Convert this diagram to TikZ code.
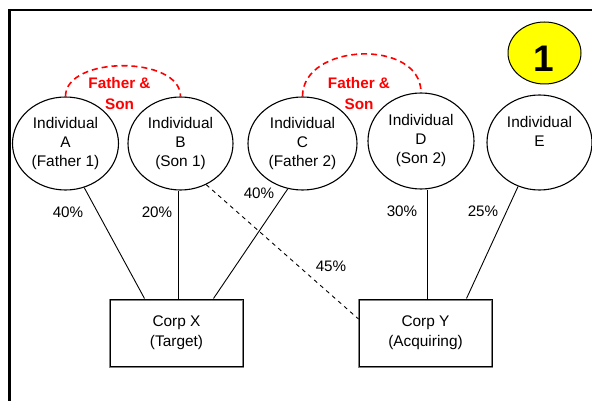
\documentclass[tikz,border=0pt]{standalone}
\usepackage{fontspec}
\setmainfont{Liberation Sans}
\usetikzlibrary{shapes.geometric,calc}
\definecolor{fsred}{RGB}{255,0,0}
\definecolor{badgeyellow}{RGB}{255,255,0}
\begin{document}
\begin{tikzpicture}[x=1pt,y=-1pt,
  person/.style={ellipse, draw, line width=1.1pt, minimum width=106pt, minimum height=93pt, inner sep=0pt, align=center, font=\fontsize{15.4}{19}\selectfont},
  corp/.style={rectangle, draw, line width=1pt, minimum width=133pt, minimum height=67pt, align=center, font=\fontsize{15.4}{20}\selectfont, preaction={draw=gray, line width=1.5pt, transform canvas={yshift=-1.2pt}}},
  link/.style={line width=0.9pt},
  pct/.style={font=\fontsize{15.2}{18}\selectfont, inner sep=0pt},
  rel/.style={draw=fsred, dash pattern=on 6pt off 4pt, line width=1.6pt},
  rellabel/.style={text=fsred, font=\bfseries\fontsize{15.3}{21}\selectfont, align=center, inner sep=0pt}
]
\useasboundingbox[fill=white] (0,0) rectangle (592,401);
\draw[line width=2.3pt] (9.5,401) -- (9.5,10) -- (592,10);

\node[person] (A) at (65.5,143.5) {Individual\\A\\(Father 1)};
\node[person, minimum width=105pt] (B) at (180.5,143.5) {Individual\\B\\(Son 1)};
\node[person, minimum width=109pt] (C) at (302.5,143.5) {Individual\\C\\(Father 2)};
\node[person, minimum height=96pt] (D) at (421,141) {Individual\\D\\(Son 2)};
\node[person, minimum height=95pt, minimum width=105pt] (E) at (539.5,142.5) {Individual\\E\\\vphantom{(Son 2)}};

\node[ellipse, draw, fill=badgeyellow, line width=1pt, minimum width=73pt, minimum height=62pt, inner sep=0pt] (badge) at (544.5,53) {};
\node[font=\bfseries\fontsize{37}{37}\selectfont, inner sep=0pt] (one) at (543.5,58.5) {1};

\node[corp] (X) at (176.5,332.5) {Corp X\\(Target)};
\node[corp] (Y) at (425.5,332.5) {Corp Y\\(Acquiring)};

\draw[link] (A.293) -- ($(X.north west)+(35,0)$);
\draw[link] (B.268) -- (B.268 |- X.north);
\draw[link] (C.252) -- ($(X.north west)+(104,0)$);
\draw[link, dash pattern=on 4pt off 4pt] (B.302) -- ($(Y.west)+(0,-13.5)$);
\coordinate (YD) at ($(Y.north west)+(68.5,0)$);
\draw[link] (YD |- D.south) -- (YD);
\draw[link] (E.244) -- ($(Y.north west)+(108,0)$);

\node[pct] (pA) at (68,212) {40\%};
\node[pct] (pB) at (157,212) {20\%};
\node[pct] (pC) at (259,193) {40\%};
\node[pct] (pBY) at (331,266) {45\%};
\node[pct] (pD) at (402,211) {30\%};
\node[pct] (pE) at (483,211) {25\%};

\draw[rel] (A.north) .. controls +(0,-41) and +(0,-41) .. (B.north);
\draw[rel] (C.north) .. controls +(0,-54) and +(0,-54) .. (D.north);
\node[rellabel] (fs1) at (119.5,93.5) {Father \&\\Son};
\node[rellabel] (fs2) at (359,93.5) {Father \&\\Son};
\end{tikzpicture}
\end{document}
